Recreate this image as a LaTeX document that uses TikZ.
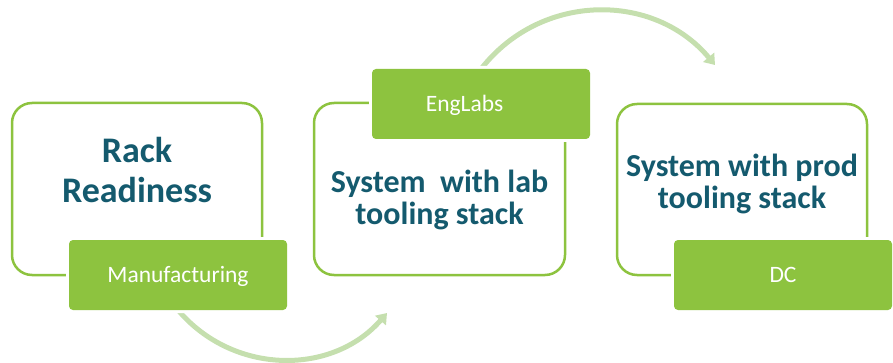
\documentclass[tikz,border=0pt]{standalone}
\usepackage{fontspec}
\setmainfont{Carlito}
\usetikzlibrary{arrows.meta}
\definecolor{leaf}{HTML}{8DC33F}
\definecolor{leafpale}{HTML}{C5DFAE}
\definecolor{ink}{HTML}{145A6E}
\begin{document}
\begin{tikzpicture}[x=1pt, y=-1pt,
  stage/.style={draw=leaf, line width=2.5pt, fill=white, rounded corners=20pt,
    minimum width=250pt, minimum height=172pt, inner sep=0pt},
  tag/.style={fill=leaf, rounded corners=4pt, preaction={draw=white, line width=6pt},
    text=white, font=\fontsize{23.5}{28}\selectfont, minimum width=218pt,
    minimum height=70pt, inner sep=0pt, text height=15pt, text depth=0pt},
  headbig/.style={text=ink, align=center, inner sep=0pt,
    font=\bfseries\fontsize{36}{40}\selectfont},
  head/.style={text=ink, align=center, inner sep=0pt,
    font=\bfseries\fontsize{32}{32}\selectfont},
  flow/.style={draw=leafpale, line width=5pt,
    -{Triangle[length=10pt, width=14pt]}}]
\useasboundingbox (0,0) rectangle (893,363);

% outlined stage boxes
\node[stage] (rack) at (137,189) {};
\node[stage, minimum width=251pt] (lab) at (439.5,189) {};
\node[stage, minimum height=171pt] (prod) at (742,189.5) {};

% stage titles
\node[headbig] (racktxt) at (137,170.5) {Rack\\Readiness};
\node[head] (labtxt) at (439.5,199.5) {System\ \ with lab\\tooling stack};
\node[head] (prodtxt) at (742,184) {System with prod\\tooling stack};

% free ends of the curved connectors
\coordinate (labin) at (387,313);
\coordinate (prodin) at (715,65);

% curved connectors between stages
\coordinate (mfgout) at (178,310);
\coordinate (engout) at (481,69);
\draw[flow] (mfgout) .. controls +(55,65) and +(-55,63) .. (labin);
\draw[flow] (engout) .. controls +(60,-77) and +(-61,-73) .. (prodin);

% location tags
\node[tag] (mfg) at (178,275) {Manufacturing};
\node[tag] (eng) at (481,104) {\hspace*{-33pt}EngLabs};
\node[tag] (dc) at (783,275) {DC};
\end{tikzpicture}
\end{document}
